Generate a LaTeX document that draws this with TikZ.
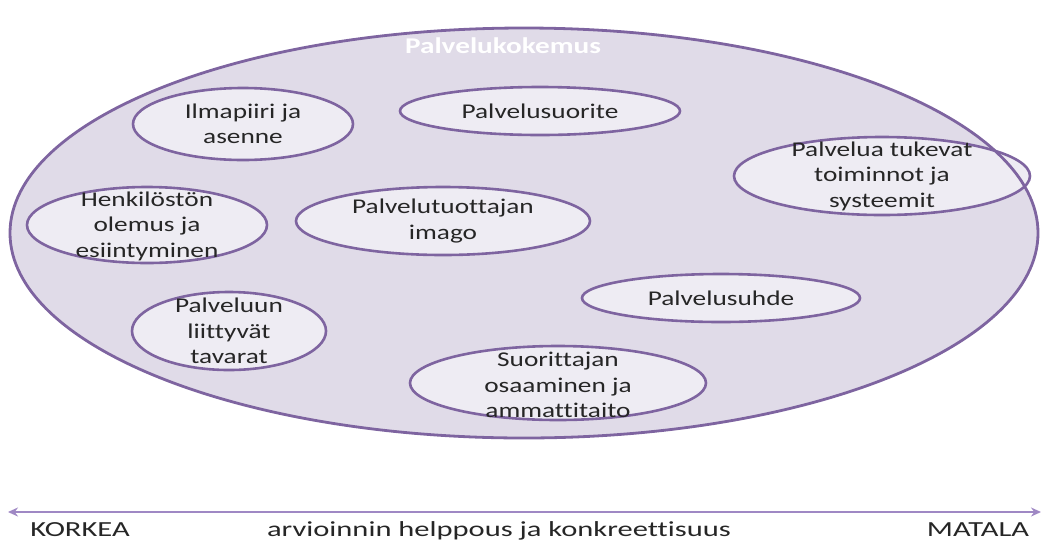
\documentclass[tikz,border=0pt]{standalone}
\usepackage{fontspec}
\setmainfont{Carlito}
\newfontfamily\bubblefont[FakeStretch=1.3,Ligatures=NoCommon]{Carlito}
\newfontfamily\axisfont[FakeStretch=1.42,Ligatures=NoCommon]{Carlito}
\newfontfamily\titlefont[FakeStretch=1.3,Ligatures=NoCommon]{Carlito}
\usetikzlibrary{arrows.meta}
\definecolor{rim}{HTML}{7E64A0}
\definecolor{outerfill}{HTML}{E0DBE8}
\definecolor{innerfill}{HTML}{EEECF3}
\definecolor{axis}{HTML}{9F88C4}
\definecolor{ink}{HTML}{262626}
\tikzset{
  bubble/.style={draw=rim, line width=2.6pt, fill=innerfill},
  btext/.style={align=center, text=ink, inner sep=0pt, font=\bubblefont\fontsize{21}{25.5}\selectfont},
  axlabel/.style={text=ink, inner sep=0pt, font=\axisfont\fontsize{21.5}{26}\selectfont, anchor=base},
}
\begin{document}
\begin{tikzpicture}[x=1pt,y=-1pt]
\useasboundingbox (0,0) rectangle (1047,542);
% outer area
\fill[outerfill] (524,233) ellipse [x radius=514, y radius=205];
\node[text=white, inner sep=0pt, font=\titlefont\bfseries\fontsize{22.5}{26}\selectfont] (title) at (503,46) {Palvelukokemus};
% bubbles
\draw[bubble] (243,124) ellipse [x radius=110, y radius=36];
\node[btext] (ilma) at (243,124) {Ilmapiiri ja\\asenne};
\draw[bubble] (540,111) ellipse [x radius=140, y radius=24];
\node[btext] (suor) at (540,111) {Palvelusuorite};
\draw[bubble] (882,176) ellipse [x radius=148, y radius=39];
\node[btext] (tuki) at (882,176) {Palvelua tukevat\\toiminnot ja\\systeemit};
\draw[bubble] (147,225) ellipse [x radius=120, y radius=38];
\node[btext] (henk) at (147,226) {Henkilöstön\\olemus ja\\esiintyminen};
\draw[bubble] (443,221) ellipse [x radius=147, y radius=34];
\node[btext] (imago) at (443,221) {Palvelutuottajan\\imago};
\draw[bubble] (229,331) ellipse [x radius=97, y radius=39];
\node[btext] (tava) at (229,331) {Palveluun\\liittyvät\\tavarat};
\draw[bubble] (721,298) ellipse [x radius=139, y radius=24];
\node[btext] (suhde) at (721,298) {Palvelusuhde};
\draw[bubble] (558,383) ellipse [x radius=148, y radius=37];
\node[btext] (osaa) at (558,385) {Suorittajan\\osaaminen ja\\ammattitaito};
% outer rim on top
\draw[rim, line width=2.8pt] (524,233) ellipse [x radius=514, y radius=205];
% axis
\coordinate (axL) at (8,512);
\coordinate (axR) at (1041,512);
\draw[axis, line width=2.4pt, {Stealth[length=10pt,width=9pt]}-{Stealth[length=10pt,width=9pt]}] (axL) -- (axR);
\node[axlabel] (hi) at (80,536) {KORKEA};
\node[axlabel] (mid) at (499,536) {arvioinnin helppous ja konkreettisuus};
\node[axlabel] (lo) at (978,536) {MATALA};
\end{tikzpicture}
\end{document}
